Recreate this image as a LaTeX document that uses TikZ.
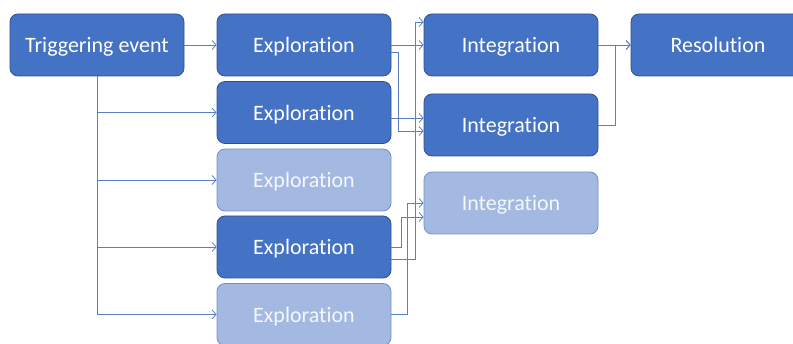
\documentclass[tikz,border=0pt]{standalone}
\usepackage{fontspec}
\setmainfont{Carlito}[RawFeature={-liga}]
\usetikzlibrary{arrows.meta}

\definecolor{stagefill}{HTML}{4472C4}
\definecolor{stageedge}{HTML}{2F528F}
\definecolor{fadedfill}{HTML}{A3B9E1}
\definecolor{fadededge}{HTML}{7090C8}
\definecolor{linkblue}{HTML}{5B7FC4}

\begin{document}
\begin{tikzpicture}[x=1pt, y=-1pt, every node/.style={font=\fontsize{22}{26}\selectfont}, >={Straight Barb[length=4pt, width=9pt]},
	stage/.style={draw=stageedge, fill=stagefill, text=white, rounded corners=8pt, minimum width=174pt, minimum height=62pt, text depth=0pt, line width=0.8pt},
	faded/.style={stage, draw=fadededge, fill=fadedfill, text=white!94!stagefill},
	link/.style={->, draw=linkblue, line width=0.8pt}]
	\useasboundingbox (0,0) rectangle (793,344);
	% stages
	\node[stage] (trig) at (97,45) {Triggering event};
	\node[stage] (ex1) at (304,45) {Exploration};
	\node[stage] (ex2) at (304,112.5) {Exploration};
	\node[faded] (ex3) at (304,180) {Exploration};
	\node[stage] (ex4) at (304,247) {Exploration};
	\node[faded] (ex5) at (304,314.5) {Exploration};
	\node[stage] (int1) at (511,45) {Integration};
	\node[stage] (int2) at (511,125) {Integration};
	\node[faded] (int3) at (511,203) {Integration};
	\node[stage] (res) at (718,45) {Resolution};
	% trigger fans out
	\draw[link] (trig) -- (ex1);
	\draw[link] (trig.south) |- (ex2.west);
	\draw[link] (trig.south) |- (ex3.west);
	\draw[link] (trig.south) |- (ex4.west);
	\draw[link] (trig.south) |- (ex5.west);
	% explorations into integrations
	\draw[link] (ex1) -- (int1);
	\draw[link] ([yshift=-7pt]ex1.east) -- ++(7,0) |- ([yshift=-6pt]int2.west);
	\draw[link] ([yshift=-5.5pt]ex2.east) -- ([yshift=-5.5pt]ex2.east -| int2.west);
	\draw[link] ([yshift=-12pt]ex4.east) -- ++(24,0) |- ([yshift=23pt]int1.west);
	\draw[link] (ex4.east) -- ++(10,0) |- ([yshift=-14pt]int3.west);
	\draw[link] (ex5.east) -- ++(16,0) |- (int3.west);
	% integrations into resolution
	\draw[link] (int1) -- (res);
	\draw[link] (int2.east) -- ++(17,0) |- (res.west);
\end{tikzpicture}
\end{document}
